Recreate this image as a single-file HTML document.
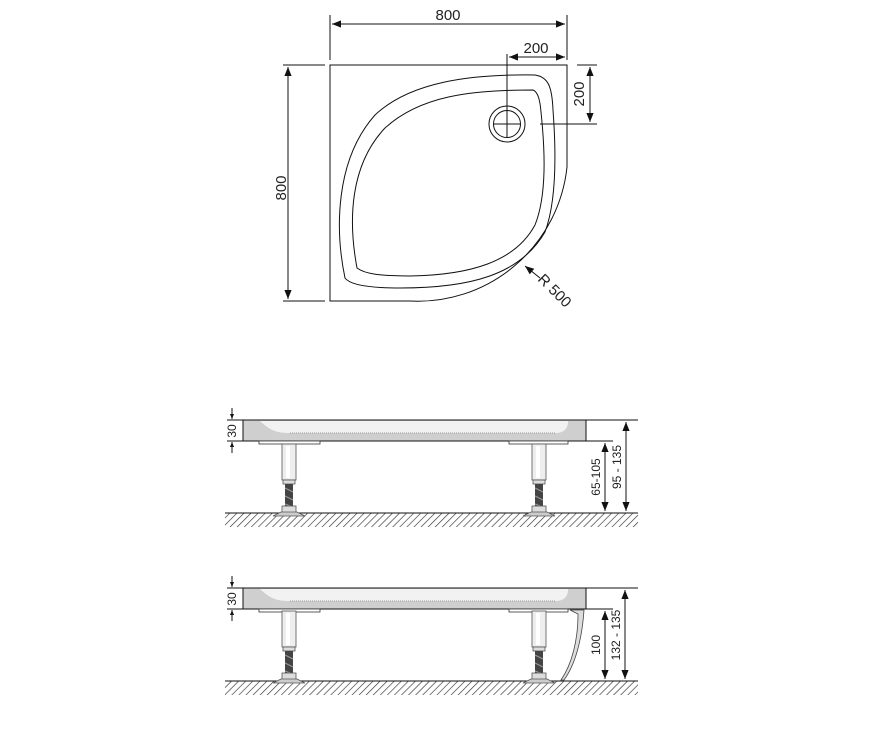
<!DOCTYPE html>
<html><head><meta charset="utf-8"><style>
html,body{margin:0;padding:0;background:#fff;}
svg{display:block;}
text{font-family:"Liberation Sans",sans-serif;fill:#222;}
</style></head><body>
<svg width="886" height="740" viewBox="0 0 886 740" xmlns="http://www.w3.org/2000/svg">
<defs>
<marker id="a" viewBox="0 0 10 10" refX="10" refY="5" markerWidth="9" markerHeight="9" orient="auto-start-reverse" markerUnits="userSpaceOnUse"><path d="M0,1 L10,5 L0,9 z" fill="#111"/></marker>
<marker id="s" viewBox="0 0 10 10" refX="10" refY="5" markerWidth="5" markerHeight="5" orient="auto-start-reverse" markerUnits="userSpaceOnUse"><path d="M0,1 L10,5 L0,9 z" fill="#111"/></marker>
<pattern id="h" width="5" height="5" patternUnits="userSpaceOnUse" patternTransform="rotate(45)"><line x1="0" y1="0" x2="0" y2="5" stroke="#333" stroke-width="1.3"/></pattern>
<g id="leg">
<rect x="-7" y="0" width="14" height="36" fill="#eee" stroke="#555" stroke-width="0.8"/>
<rect x="-3" y="2" width="4" height="32" fill="#fff"/>
<rect x="-6" y="36" width="12" height="4" fill="#ddd" stroke="#555" stroke-width="0.8"/>
<rect x="-4" y="40" width="8" height="24" fill="#444"/>
<path d="M-4,44 L4,48 M-4,52 L4,56 M-4,60 L4,63" stroke="#999" stroke-width="1"/>
<rect x="-7" y="62" width="14" height="8" fill="#ddd" stroke="#555" stroke-width="0.8"/>
<path d="M-16,72 L-8,68 L8,68 L16,72 Z" fill="#ccc" stroke="#555" stroke-width="0.8"/>
</g>
</defs>

<!-- TOP VIEW -->
<g fill="none" stroke="#111" stroke-width="1">
<path d="M330,65 H567 V167 A150,150 0 0 1 410,301 H330 Z"/>
<path d="M345,278 C335,230 335,160 375,115 C410,82 470,74 535,75 C548,77 552,86 553,110 C556,150 557,200 545,232 C520,275 470,288 400,288 C370,288 350,285 345,278 Z"/>
<path d="M357,268 C348,220 350,165 385,128 C420,96 470,90 533,90 C538,92 540,100 541,112 C545,150 547,195 535,225 C515,262 470,275 410,276 C380,276 365,274 357,268 Z"/>
<circle cx="507" cy="124" r="18"/>
<circle cx="507" cy="124" r="13.5"/>
<path d="M494,124 H520 M507,54 V137 M540,124 H597 M577,65 H597 M283,65 H325 M283,301 H325 M330,15 V60 M567,15 V60"/>
<path d="M332,24 H565" marker-start="url(#a)" marker-end="url(#a)"/>
<path d="M509,57 H565" marker-start="url(#a)" marker-end="url(#a)"/>
<path d="M590,67 V122" marker-start="url(#a)" marker-end="url(#a)"/>
<path d="M288,67 V299" marker-start="url(#a)" marker-end="url(#a)"/>
<path d="M540,278 L525,266" marker-end="url(#a)"/>
</g>
<g font-size="15">
<text x="448" y="20" text-anchor="middle">800</text>
<text x="536" y="53" text-anchor="middle">200</text>
<text transform="translate(584,94) rotate(-90)" text-anchor="middle">200</text>
<text transform="translate(286,188) rotate(-90)" text-anchor="middle">800</text>
<text transform="translate(537,280) rotate(45)">R 500</text>
</g>

<!-- SIDE VIEW 1 -->
<g>
<rect x="225" y="513" width="413" height="14" fill="url(#h)"/>
<line x1="225" y1="513" x2="638" y2="513" stroke="#111"/>
<rect x="243" y="420" width="343" height="21" fill="#cfcfcf" stroke="#111" stroke-width="1"/>
<path d="M260,421 C270,430 275,433 290,433 H555 C565,433 568,428 568,421 Z" fill="#f2f2f2"/>
<path d="M290,433 H555" stroke="#999" stroke-dasharray="1,1"/>
<rect x="259" y="441" width="61" height="3" fill="#fff" stroke="#333" stroke-width="0.8"/>
<rect x="509" y="441" width="59" height="3" fill="#fff" stroke="#333" stroke-width="0.8"/>
<use href="#leg" x="289" y="444"/>
<use href="#leg" x="539" y="444"/>
<g stroke="#111" fill="none">
<path d="M586,420 H638 M586,441 H613 M227,420 H243 M227,441 H243"/>
<path d="M232,408 V419" marker-end="url(#s)"/><path d="M232,453 V442" marker-end="url(#s)"/>
<path d="M605,443 V511" marker-start="url(#a)" marker-end="url(#a)"/>
<path d="M626,422 V511" marker-start="url(#a)" marker-end="url(#a)"/>
</g>
<g font-size="12">
<text transform="translate(232,431) rotate(-90)" text-anchor="middle" dy="4">30</text>
<text transform="translate(600,477) rotate(-90)" text-anchor="middle">65-105</text>
<text transform="translate(621,467) rotate(-90)" text-anchor="middle">95 - 135</text>
</g>
</g>

<!-- SIDE VIEW 2 -->
<g>
<rect x="225" y="681" width="413" height="14" fill="url(#h)"/>
<line x1="225" y1="681" x2="638" y2="681" stroke="#111"/>
<rect x="243" y="588" width="343" height="21" fill="#cfcfcf" stroke="#111" stroke-width="1"/>
<path d="M260,589 C270,598 275,601 290,601 H555 C565,601 568,596 568,589 Z" fill="#f2f2f2"/>
<path d="M290,601 H555" stroke="#999" stroke-dasharray="1,1"/>
<rect x="259" y="609" width="61" height="3" fill="#fff" stroke="#333" stroke-width="0.8"/>
<rect x="509" y="609" width="59" height="3" fill="#fff" stroke="#333" stroke-width="0.8"/>
<use href="#leg" x="289" y="611"/>
<use href="#leg" x="539" y="611"/>
<path d="M570,610 L584,610 C582,640 575,665 564,680 L561,680 C572,664 578,640 578,614 Z" fill="#ddd" stroke="#444" stroke-width="0.8"/>
<g stroke="#111" fill="none">
<path d="M586,588 H638 M586,609 H613 M227,588 H243 M227,609 H243"/>
<path d="M232,576 V587" marker-end="url(#s)"/><path d="M232,621 V610" marker-end="url(#s)"/>
<path d="M605,611 V679" marker-start="url(#a)" marker-end="url(#a)"/>
<path d="M625,590 V679" marker-start="url(#a)" marker-end="url(#a)"/>
</g>
<g font-size="12">
<text transform="translate(232,599) rotate(-90)" text-anchor="middle" dy="4">30</text>
<text transform="translate(600,645) rotate(-90)" text-anchor="middle">100</text>
<text transform="translate(620,635) rotate(-90)" text-anchor="middle">132 - 135</text>
</g>
</g>
</svg>
</body></html>
